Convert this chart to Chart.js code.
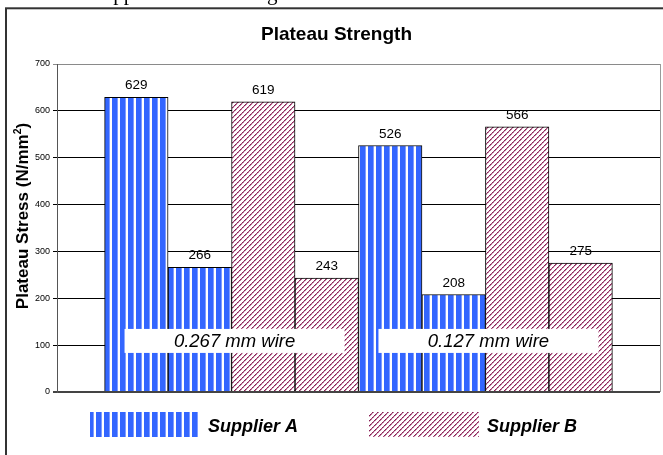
<!DOCTYPE html>
<html>
<head>
<meta charset="utf-8">
<script src="https://cdn.jsdelivr.net/npm/chart.js@4/dist/chart.umd.min.js"></script>
<style>
  html, body { margin: 0; padding: 0; background: #fff; overflow: hidden; }
  canvas { display: block; }
</style>
</head>
<body>
<canvas id="chart" width="663" height="455"></canvas>
<script>
// Plateau stress per wire size: two bars for each supplier within each wire group
const wireLabels = ['0.267 mm wire', '0.127 mm wire'];
const supplierLabels = ['Supplier A', 'Supplier B'];
const supplierAValues = [629, 266, 526, 208];
const supplierBValues = [619, 243, 566, 275];
const yTickValues = [0, 100, 200, 300, 400, 500, 600, 700];

const FONT = '"Liberation Sans", Arial, sans-serif';

// Fill patterns: blue vertical stripes and plum diagonal hatching
function makeStripePattern() {
  const c = document.createElement('canvas');
  c.width = 8; c.height = 8;
  const g = c.getContext('2d');
  g.fillStyle = '#ffffff'; g.fillRect(0, 0, 8, 8);
  g.fillStyle = '#3366ff'; g.fillRect(0, 0, 5, 8);
  g.fillStyle = '#7f9cff'; g.fillRect(5, 0, 1, 8);
  return g.createPattern(c, 'repeat');
}
function makeHatchPattern() {
  const n = 5;
  const c = document.createElement('canvas');
  c.width = n; c.height = n;
  const g = c.getContext('2d');
  g.fillStyle = '#ffffff'; g.fillRect(0, 0, n, n);
  for (let i = 0; i < n; i++) {
    g.fillStyle = i % 2 ? '#a8497c' : '#8a1f55';
    g.fillRect(i, n - 1 - i, 1, 1);
    g.fillStyle = i % 2 ? 'rgba(153,51,102,0.4)' : 'rgba(153,51,102,0.65)';
    g.fillRect((i + 1) % n, n - 1 - i, 1, 1);
  }
  return g.createPattern(c, 'repeat');
}
const stripeFill = makeStripePattern();
const hatchFill = makeHatchPattern();

// Bars sit side by side: per wire group, Supplier A's pair then Supplier B's pair
function toPoints(values, supplierIndex) {
  return values.map((v, i) => {
    const group = Math.floor(i / 2);
    return { x: group * 4 + supplierIndex * 2 + (i % 2), y: v };
  });
}

const frameAndTitle = {
  id: 'frameAndTitle',
  beforeDraw(chart) {
    const ctx = chart.ctx;
    ctx.save();
    ctx.fillStyle = '#fff';
    ctx.fillRect(0, 0, chart.width, chart.height);
    // document heading above the chart frame
    ctx.fillStyle = '#000';
    ctx.font = '21px "Liberation Serif", "Times New Roman", serif';
    ctx.textBaseline = 'alphabetic';
    ctx.textAlign = 'left';
    ctx.fillText('Upper Plateau Strength', 98, 0);
    // chart frame
    ctx.strokeStyle = '#333';
    ctx.lineWidth = 2;
    ctx.strokeRect(6, 8.3, 720, 520);
    // chart title
    ctx.font = 'bold 19px ' + FONT;
    ctx.textAlign = 'center';
    ctx.fillText('Plateau Strength', 336.5, 40);
    ctx.restore();
  }
};

const annotations = {
  id: 'annotations',
  afterDraw(chart) {
    const ctx = chart.ctx;
    const area = chart.chartArea;
    const xs = chart.scales.x, ys = chart.scales.y;
    ctx.save();

    // right edge of plot area
    ctx.strokeStyle = '#9a9a9a';
    ctx.lineWidth = 1;
    ctx.beginPath();
    ctx.moveTo(area.right + 0.5, area.top);
    ctx.lineTo(area.right + 0.5, area.bottom);
    ctx.stroke();

    // value labels above bars
    ctx.fillStyle = '#000';
    ctx.font = '13.5px ' + FONT;
    ctx.textAlign = 'center';
    ctx.textBaseline = 'alphabetic';
    chart.data.datasets.forEach((ds, di) => {
      chart.getDatasetMeta(di).data.forEach((bar, i) => {
        ctx.fillText(String(ds.data[i].y), bar.x, bar.y - 8);
      });
    });

    // wire-size boxes across each group
    ctx.font = 'italic 18.5px ' + FONT;
    wireLabels.forEach((label, g) => {
      const cx = xs.getPixelForValue(g * 4 + 1.5) + 3;
      const cy = ys.getPixelForValue(109);
      ctx.fillStyle = '#fff';
      ctx.fillRect(cx - 110, cy - 12, 220, 24);
      ctx.fillStyle = '#000';
      ctx.textBaseline = 'middle';
      ctx.fillText(label, cx, cy + 1);
    });

    // legend
    const fills = [stripeFill, hatchFill];
    const swatchX = [90, 369];
    ctx.font = 'bold italic 18px ' + FONT;
    ctx.textAlign = 'left';
    ctx.textBaseline = 'alphabetic';
    supplierLabels.forEach((name, s) => {
      ctx.fillStyle = fills[s];
      ctx.fillRect(swatchX[s], 412, 110, 25);
      ctx.fillStyle = '#000';
      ctx.fillText(name, swatchX[s] + 118, 432);
    });

    // y-axis title with superscript
    ctx.translate(28, 216);
    ctx.rotate(-Math.PI / 2);
    const main = 'Plateau Stress (N/mm';
    const big = 'bold 17px ' + FONT, small = 'bold 10.5px ' + FONT;
    ctx.font = big; const w1 = ctx.measureText(main).width; const w3 = ctx.measureText(')').width;
    ctx.font = small; const w2 = ctx.measureText('2').width;
    let x = -(w1 + w2 + w3) / 2;
    ctx.font = big; ctx.fillText(main, x, 0); x += w1;
    ctx.font = small; ctx.fillText('2', x, -7); x += w2;
    ctx.font = big; ctx.fillText(')', x, 0);
    ctx.restore();
  }
};

new Chart(document.getElementById('chart'), {
  type: 'bar',
  data: {
    datasets: [
      { label: supplierLabels[0], data: toPoints(supplierAValues, 0), backgroundColor: stripeFill },
      { label: supplierLabels[1], data: toPoints(supplierBValues, 1), backgroundColor: hatchFill }
    ]
  },
  options: {
    responsive: false,
    devicePixelRatio: 1,
    animation: false,
    layout: { padding: { left: 0, top: 64, right: 3, bottom: 63 } },
    datasets: {
      bar: {
        grouped: false,
        barPercentage: 1,
        categoryPercentage: 1,
        borderColor: '#000',
        borderWidth: 1
      }
    },
    scales: {
      x: {
        type: 'linear',
        min: -1.25,
        max: 8.25,
        offset: false,
        display: false
      },
      y: {
        min: yTickValues[0],
        max: yTickValues[yTickValues.length - 1],
        afterBuildTicks(scale) { scale.ticks = yTickValues.map(v => ({ value: v })); },
        afterFit(scale) { scale.width = 57; },
        ticks: { color: '#000', font: { family: FONT, size: 9 }, padding: 3 },
        border: { display: true, color: '#555', width: 1 },
        grid: {
          tickLength: 4,
          color: (c) => c.tick && c.tick.value === 700 ? '#8a8a8a' : (c.tick && c.tick.value === 0 ? '#444' : '#000'),
          lineWidth: (c) => c.tick && c.tick.value === 0 ? 2 : 1
        }
      }
    },
    plugins: {
      legend: { display: false },
      title: { display: false },
      tooltip: { enabled: false }
    }
  },
  plugins: [frameAndTitle, annotations]
});
</script>
</body>
</html>
